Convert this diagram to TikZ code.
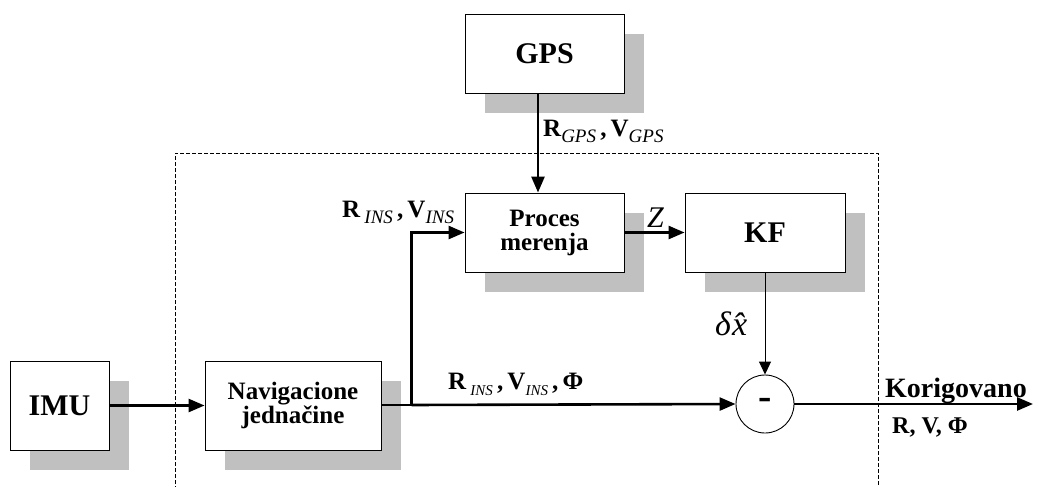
\documentclass[tikz,border=0pt]{standalone}
\usepackage{fontspec}
\setmainfont{Liberation Serif}
\usetikzlibrary{arrows.meta,shadows}
\definecolor{shadowgray}{HTML}{C0C0C0}
\newcommand{\subsc}[2][17]{\raisebox{-6pt}{\fontsize{#1}{#1}\selectfont\mdseries\itshape #2}}
\tikzset{
  blk/.style={draw=black, line width=0.9pt, fill=white, align=center, inner sep=0pt,
    font=\bfseries\fontsize{25}{27}\selectfont,
    drop shadow={shadow xshift=20pt, shadow yshift=-20pt, fill=shadowgray, opacity=1}},
  bigblk/.style={blk, font=\bfseries\fontsize{30}{32}\selectfont},
  sumnode/.style={draw=black, line width=0.9pt, circle, fill=white, minimum size=58pt, inner sep=0pt,
    font=\bfseries\fontsize{40}{40}\selectfont},
  flow/.style={line width=2.6pt, -{Triangle[length=16pt,width=13pt]}},
  thinflow/.style={line width=1pt, -{Triangle[length=13pt,width=12pt]}},
  plainline/.style={line width=2.6pt},
  frame/.style={line width=0.9pt, dash pattern=on 4pt off 2pt},
  lbl/.style={inner sep=0pt, anchor=base west, font=\bfseries\fontsize{25}{27}\selectfont},
}
\begin{document}
\begin{tikzpicture}[x=1pt,y=-1pt]
\useasboundingbox (0,0) rectangle (1039,487);
% dashed frame (open at bottom)
\coordinate (fbl) at (175,490);
\coordinate (ftl) at (175,153);
\coordinate (ftr) at (878,153);
\coordinate (fbr) at (878,490);
\draw[frame] (fbl) -- (ftl) -- (ftr) -- (fbr);
% blocks
\node[bigblk, minimum width=159pt, minimum height=79pt] (gps) at (544.5,53.5) {GPS};
\node[blk, minimum width=159pt, minimum height=79pt] (proc) at (544.5,232.5) {Proces\\[-3pt]merenja};
\node[bigblk, minimum width=160pt, minimum height=79pt] (kf) at (765,232.5) {KF};
\node[bigblk, minimum width=99pt, minimum height=89pt] (imu) at (59.5,405.5) {IMU};
\node[blk, minimum width=176pt, minimum height=89pt] (nav) at (293,405.5) {Navigacione\\[-3pt]jednačine};
\node[sumnode] (sum) at (765,404) {-};
% connectors
\coordinate (br) at (411.5,405);
\coordinate (out) at (1033,404);
\draw[flow] (imu.east) -- (nav.west);
\draw[plainline] (nav.east |- br) -- (br);
\draw[flow] (br) -- (sum.west);
\draw[flow] (br) |- (proc.west);
\draw[flow] ([xshift=-6.5pt]gps.south) -- ([xshift=-6.5pt]proc.north);
\draw[flow] (proc.east) -- (kf.west);
\draw[thinflow] (kf.south) -- (sum.north);
\draw[flow] (sum.east) -- (out);
% labels
\node[lbl] (lgps) at (543,136) {R\subsc[19]{GPS}\,,\,V\subsc[19]{GPS}};
\node[lbl] (lins) at (342,217) {R\,\subsc[19]{INS}\,,\,V\subsc[19]{INS}};
\node[lbl, font=\itshape\fontsize{30}{32}\selectfont] (lz) at (647,227) {Z};
\node[lbl, font=\itshape\fontsize{34}{36}\selectfont] (ldx) at (715,335) {δ\kern1pt\^{x}};
\node[lbl] (lmain) at (448,389) {R\,\subsc[15]{INS}\,,\,V\subsc[15]{INS}\,,\,Φ};
\node[lbl, font=\bfseries\fontsize{28}{30}\selectfont] (lkor) at (885,397) {Korigovano};
\node[lbl, font=\bfseries\fontsize{24}{26}\selectfont] (lrvf) at (892,433) {R, V, Φ};
\end{tikzpicture}
\end{document}
